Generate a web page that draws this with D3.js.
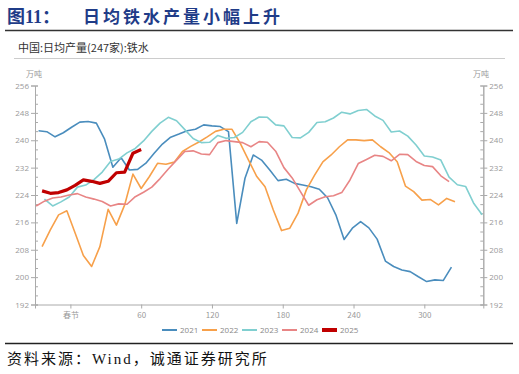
<!DOCTYPE html>
<html>
<head>
<meta charset="utf-8">
<script src="https://cdn.jsdelivr.net/npm/d3@7/dist/d3.min.js"></script>
<style>
  body { margin: 0; background: #fff; }
  svg { display: block; }
</style>
</head>
<body>
<div id="chart"></div>
<script>
// weekly values, x = days after Spring Festival
const years = ['2021', '2022', '2023', '2024', '2025']
const startDays = [-27, -24, -22, -29, -24]
const v2021 = [242.8, 242.5, 241.0, 242.2, 243.8, 245.3, 245.5, 245.0, 240.3, 232.1, 234.9, 231.3, 231.5, 233.3, 236.2, 238.9, 240.9, 241.8, 242.8, 243.2, 244.5, 244.2, 244.0, 242.5, 215.7, 228.9, 235.7, 234.2, 231.3, 228.2, 228.6, 227.4, 226.9, 226.4, 225.7, 223.2, 218.2, 211.0, 214.3, 216.2, 214.4, 211.1, 204.7, 203.1, 202.1, 201.6, 200.1, 198.7, 199.2, 199.0, 202.9]
const v2022 = [208.9, 213.8, 218.2, 219.4, 212.9, 206.3, 203.1, 208.9, 219.8, 215.2, 221.1, 230.1, 225.9, 229.4, 233.3, 233.0, 233.6, 236.7, 238.2, 239.5, 241.0, 242.6, 243.2, 243.2, 239.1, 234.2, 229.4, 226.4, 219.6, 213.6, 214.3, 218.7, 225.5, 229.8, 233.7, 235.7, 238.1, 240.1, 240.1, 239.9, 240.1, 238.1, 236.4, 233.7, 226.6, 225.0, 222.5, 222.7, 221.1, 223.0, 222.0]
const v2023 = [222.8, 220.8, 222.0, 223.4, 226.3, 226.9, 228.5, 230.7, 233.8, 234.5, 236.3, 237.6, 239.8, 242.6, 245.0, 246.7, 245.7, 243.1, 240.5, 239.3, 239.4, 241.4, 240.6, 240.8, 242.3, 245.4, 246.8, 246.7, 244.5, 244.2, 240.8, 240.7, 242.3, 245.2, 245.4, 246.5, 248.2, 247.7, 248.7, 249.0, 247.1, 245.8, 242.4, 242.7, 241.2, 238.6, 235.4, 235.1, 234.2, 229.2, 227.0, 226.5, 221.5, 218.2]
const v2024 = [220.8, 222.2, 223.1, 223.4, 224.0, 224.4, 223.4, 222.8, 222.1, 220.8, 221.4, 221.3, 223.5, 224.8, 226.3, 228.8, 231.6, 234.2, 236.7, 236.9, 236.0, 235.8, 239.3, 239.9, 239.6, 239.3, 238.1, 239.6, 239.4, 236.8, 232.0, 229.0, 225.0, 221.0, 222.6, 223.5, 223.8, 224.7, 228.4, 233.2, 234.4, 235.6, 235.3, 234.0, 235.9, 235.8, 233.8, 232.6, 232.3, 229.6, 227.9]
const v2025 = [225.2, 224.5, 224.7, 225.5, 226.8, 228.4, 228.0, 227.4, 228.0, 230.5, 230.7, 236.2, 237.3]
const yTicks = [192, 200, 208, 216, 224, 232, 240, 248, 256]
const xTicks = [0, 60, 120, 180, 240, 300]
const xTickLabels = ['春节', '60', '120', '180', '240', '300']

const colors = ['#4a8dbd', '#f7a04a', '#80cfd0', '#e88585', '#c00000']
const widths = [1.6, 1.6, 1.6, 1.6, 3.2]

const W = 519, H = 374
const svg = d3.select('#chart').append('svg').attr('width', W).attr('height', H)
  .style('font-family', '"Noto Sans CJK SC", "Noto Sans", sans-serif')

// header
svg.append('text').attr('x', 7).attr('y', 23)
  .attr('font-family', '"Liberation Serif", "Noto Sans CJK SC", serif')
  .attr('font-weight', 'bold').attr('font-size', 18).attr('fill', '#1f3c88')
  .text('图11：')
svg.append('text').attr('x', 83).attr('y', 23)
  .attr('font-family', '"Noto Sans CJK SC", serif')
  .attr('font-weight', 'bold').attr('font-size', 17).attr('fill', '#1f3c88')
  .attr('letter-spacing', 3)
  .text('日均铁水产量小幅上升')
svg.append('line').attr('x1', 5).attr('x2', 513).attr('y1', 30.5).attr('y2', 30.5)
  .attr('stroke', '#333').attr('stroke-width', 1.3)
svg.append('text').attr('x', 18).attr('y', 52).attr('font-size', 11).attr('fill', '#333')
  .text('中国:日均产量(247家):铁水')
svg.append('line').attr('x1', 14).attr('x2', 505).attr('y1', 58.5).attr('y2', 58.5)
  .attr('stroke', '#ccc').attr('stroke-width', 1)

// footer
svg.append('line').attr('x1', 5).attr('x2', 513).attr('y1', 343.5).attr('y2', 343.5)
  .attr('stroke', '#222').attr('stroke-width', 1.3)
svg.append('text').attr('x', 7).attr('y', 364).attr('font-size', 15).attr('fill', '#111')
  .attr('font-family', '"Liberation Serif", "Noto Sans CJK SC", serif')
  .attr('letter-spacing', 2)
  .text('资料来源：Wind，诚通证券研究所')

// scales
const x = d3.scaleLinear().domain([-30, 350]).range([35, 483.3])
const y = d3.scaleLinear().domain([192, 256]).range([304.5, 85.5])

const styleAxis = (g) => {
  g.select('.domain').attr('stroke', '#aaa')
  g.selectAll('.tick line').attr('stroke', '#aaa')
  g.selectAll('.tick text').attr('fill', '#999').attr('font-size', 8)
    .attr('font-family', '"Open Sans", "Noto Sans", sans-serif')
}

const minor = d3.range(192, 256.01, 8 / 3)

svg.append('g').attr('transform', 'translate(' + [x(-30), 0] + ')')
  .call(d3.axisRight(y).tickValues(minor).tickSize(3).tickFormat(''))
  .call(styleAxis)
svg.append('g').attr('transform', 'translate(' + [x(350), 0] + ')')
  .call(d3.axisLeft(y).tickValues(minor).tickSize(3).tickFormat(''))
  .call(styleAxis)
svg.append('g').attr('transform', 'translate(' + [x(-30), 0] + ')')
  .call(d3.axisLeft(y).tickValues(yTicks).tickSize(4).tickPadding(2))
  .call(styleAxis)
svg.append('g').attr('transform', 'translate(' + [x(350), 0] + ')')
  .call(d3.axisRight(y).tickValues(yTicks).tickSize(4).tickPadding(2))
  .call(styleAxis)
svg.append('g').attr('transform', 'translate(' + [0, y(192)] + ')')
  .call(d3.axisBottom(x).tickValues(xTicks).tickSize(4).tickPadding(4)
    .tickFormat((d, i) => xTickLabels[i]))
  .call(styleAxis)
  .call(g => g.selectAll('.tick text').attr('font-family', '"Noto Sans CJK SC", sans-serif'))

svg.append('text').attr('x', 34).attr('y', 77).attr('text-anchor', 'middle')
  .attr('font-size', 8).attr('fill', '#999').text('万吨')
svg.append('text').attr('x', 481).attr('y', 77).attr('text-anchor', 'middle')
  .attr('font-size', 8).attr('fill', '#999').text('万吨')

// lines
const series = [v2021, v2022, v2023, v2024, v2025]
const line = d3.line().x(d => x(d[0])).y(d => y(d[1]))
series.forEach((vals, k) => {
  const pts = vals.map((v, i) => [startDays[k] + 7 * i, v])
  svg.append('path').datum(pts)
    .attr('fill', 'none')
    .attr('stroke', colors[k])
    .attr('stroke-width', widths[k])
    .attr('stroke-linejoin', 'round')
    .attr('d', line)
})

// legend
const legend = svg.append('g').attr('transform', 'translate(162,330)')
years.forEach((yr, k) => {
  const g = legend.append('g').attr('transform', 'translate(' + [k * 40, 0] + ')')
  g.append('line').attr('x1', 0).attr('x2', 15).attr('y1', 0).attr('y2', 0)
    .attr('stroke', colors[k]).attr('stroke-width', k === 4 ? 4 : 2)
  g.append('text').attr('x', 18).attr('y', 3).attr('font-size', 8).attr('fill', '#888')
    .attr('font-family', '"Open Sans", "Noto Sans", sans-serif')
    .text(yr)
})
</script>
</body>
</html>
